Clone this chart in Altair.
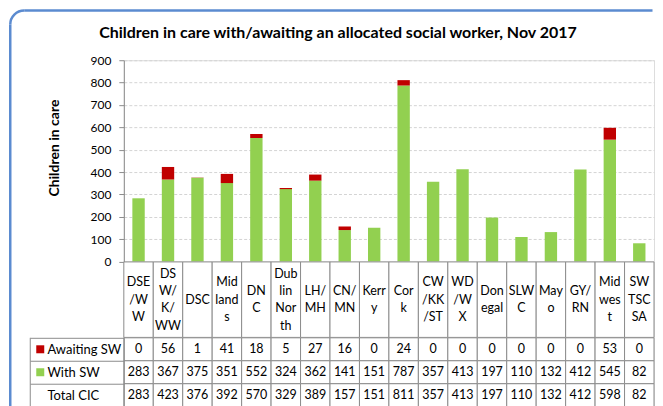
import altair as alt
import pandas as pd
import math

FONT = "Lato"
LINE = "#8c8c8c"
FRAME = "#5b8bd0"

categories = ["DSE/WW", "DSW/K/WW", "DSC", "Midlands", "DNC", "Dublin North",
              "LH/MH", "CN/MN", "Kerry", "Cork", "CW/KK/ST", "WD/WX", "Donegal",
              "SLWC", "Mayo", "GY/RN", "Midwest", "SWTSCSA"]
header_labels = ["DSE|/W|W", "DS|W/|K/|WW", "DSC", "Mid|land|s", "DN|C", "Dub|lin|Nor|th",
                 "LH/|MH", "CN/|MN", "Kerr|y", "Cor|k", "CW|/KK|/ST", "WD|/W|X", "Don|egal",
                 "SLW|C", "May|o", "GY/|RN", "Mid|wes|t", "SW|TSC|SA"]
awaiting = [0, 56, 1, 41, 18, 5, 27, 16, 0, 24, 0, 0, 0, 0, 0, 0, 53, 0]
with_sw = [283, 367, 375, 351, 552, 324, 362, 141, 151, 787, 357, 413, 197, 110, 132, 412, 545, 82]
total = [283, 423, 376, 392, 570, 329, 389, 157, 151, 811, 357, 413, 197, 110, 132, 412, 598, 82]
series = ["Awaiting SW", "With SW"]
row_names = ["Awaiting SW", "With SW", "Total CIC"]
colors = ["#c00000", "#92d050"]
y_ticks = [0, 100, 200, 300, 400, 500, 600, 700, 800, 900]
title_text = "Children in care with/awaiting  an allocated social worker, Nov 2017"

W = 531
H_BAR = 201.7
H_HEAD = 75.6
H_ROWS = 69
LH = 17.3  # header line height

# ---- bar data
bar_rows = []
for c, a, w in zip(categories, awaiting, with_sw):
    bar_rows.append({"category": c, "series": "With SW", "value": w, "ord": 0})
    bar_rows.append({"category": c, "series": "Awaiting SW", "value": a, "ord": 1})
bar_df = pd.DataFrame(bar_rows)

color_scale = alt.Scale(domain=series, range=colors)

bars = alt.Chart(bar_df).mark_bar().encode(
    x=alt.X("category:N", sort=categories,
            scale=alt.Scale(domain=categories, paddingInner=0.58, paddingOuter=0.29),
            axis=None),
    y=alt.Y("value:Q", stack="zero",
            scale=alt.Scale(domain=[0, 900], nice=False),
            axis=alt.Axis(values=y_ticks, title="Children in care", titleFont=FONT,
                          titleFontSize=14, titleFontWeight="bold", titleColor="black",
                          titleX=-69.5, titleY=87.5, titleAngle=270,
                          titleAlign="center", titleBaseline="middle",
                          labelFont=FONT, labelFontSize=12, labelColor="black",
                          labelPadding=8, tickSize=5, tickColor=LINE, domainColor=LINE,
                          grid=True, gridColor="#d4d4d4", gridDash=[3, 2])),
    color=alt.Color("series:N", scale=color_scale, legend=None),
    order=alt.Order("ord:Q", sort="ascending"),
)

bar_chart = bars.properties(
    width=W, height=H_BAR,
    title=alt.TitleParams(title_text, font=FONT, fontSize=16, fontWeight="bold",
                          color="black", anchor="middle", dx=-51, offset=13),
)

# ---- header row (category names, wrapped as in the table)
x_tab = alt.X("category:N", sort=categories,
              scale=alt.Scale(domain=categories, paddingInner=0, paddingOuter=0),
              axis=None)
head_df = pd.DataFrame({"category": categories})
line_rows = []
for c, lab in zip(categories, header_labels):
    parts = lab.split("|")
    n = len(parts)
    for i, p in enumerate(parts):
        line_rows.append({"category": c, "line": p, "pos": i - (n - 1) / 2})
line_df = pd.DataFrame(line_rows)
half = H_HEAD / LH / 2

head_cells = alt.Chart(head_df).mark_rect(fill="white", stroke=LINE, strokeWidth=1).encode(x=x_tab)
head_text = alt.Chart(line_df).mark_text(
    font=FONT, fontSize=12.5, color="black", baseline="middle"
).encode(x=x_tab,
         y=alt.Y("pos:Q", scale=alt.Scale(domain=[-half, half], reverse=True, nice=False), axis=None),
         text="line:N")
header = alt.layer(head_cells, head_text).properties(width=W, height=H_HEAD)

# ---- data table rows
tab_rows = []
for c, a, w, t in zip(categories, awaiting, with_sw, total):
    tab_rows.append({"category": c, "row": "Awaiting SW", "value": a})
    tab_rows.append({"category": c, "row": "With SW", "value": w})
    tab_rows.append({"category": c, "row": "Total CIC", "value": t})
tab_df = pd.DataFrame(tab_rows)

y_tab = alt.Y("row:N", sort=row_names,
              scale=alt.Scale(domain=row_names, paddingInner=0, paddingOuter=0),
              axis=alt.Axis(title=None, labelAlign="left", labelPadding=-17, tickSize=94,
                            tickBand="extent", tickColor=LINE, domainColor=LINE,
                            labelFont=FONT, labelFontSize=13, labelColor="black"))

cells = alt.Chart(tab_df).mark_rect(fill="white", stroke=LINE, strokeWidth=1).encode(x=x_tab, y=y_tab)
cell_text = alt.Chart(tab_df).mark_text(font=FONT, fontSize=12.5, color="black").encode(
    x=x_tab, y=y_tab, text="value:Q")

sw_df = pd.DataFrame({"row": series})
swatches = alt.Chart(sw_df).mark_square(size=64, opacity=1).encode(
    x=alt.value(-83.7), y=y_tab,
    color=alt.Color("row:N", scale=color_scale, legend=None))

one = alt.Data(values=[{"k": 1}])
left_rule = alt.Chart(one).mark_rule(color=LINE, strokeWidth=1).encode(
    x=alt.value(-93.7), y=alt.value(0), y2=alt.value(H_ROWS))

# outer rounded frame (top-left part; the rest lies outside the picture)
FX, FY, R = -113.75, -327.8, 14
frame_top = alt.Chart(one).mark_rule(color=FRAME, strokeWidth=2.5, strokeCap="butt").encode(
    x=alt.value(FX + R), x2=alt.value(W - 1.5), y=alt.value(FY))
frame_left = alt.Chart(one).mark_rule(color=FRAME, strokeWidth=2.5, strokeCap="butt").encode(
    x=alt.value(FX), y=alt.value(FY + R), y2=alt.value(H_ROWS + 2))
frame_corner = alt.Chart(one).mark_arc(color=FRAME).encode(
    x=alt.value(FX + R), y=alt.value(FY + R),
    theta=alt.value(1.5 * math.pi), theta2=alt.value(2 * math.pi),
    radius=alt.value(R + 1.25), radius2=alt.value(R - 1.25))

rows = alt.layer(cells, cell_text, swatches, left_rule, frame_top, frame_left,
                 frame_corner).properties(width=W, height=H_ROWS)

chart = alt.vconcat(bar_chart, header, rows, spacing=0, bounds="flush").properties(
    padding=0
).configure_view(strokeWidth=0).configure(font=FONT)

chart.save("out.html", embed_options={"renderer": "svg", "actions": False})
